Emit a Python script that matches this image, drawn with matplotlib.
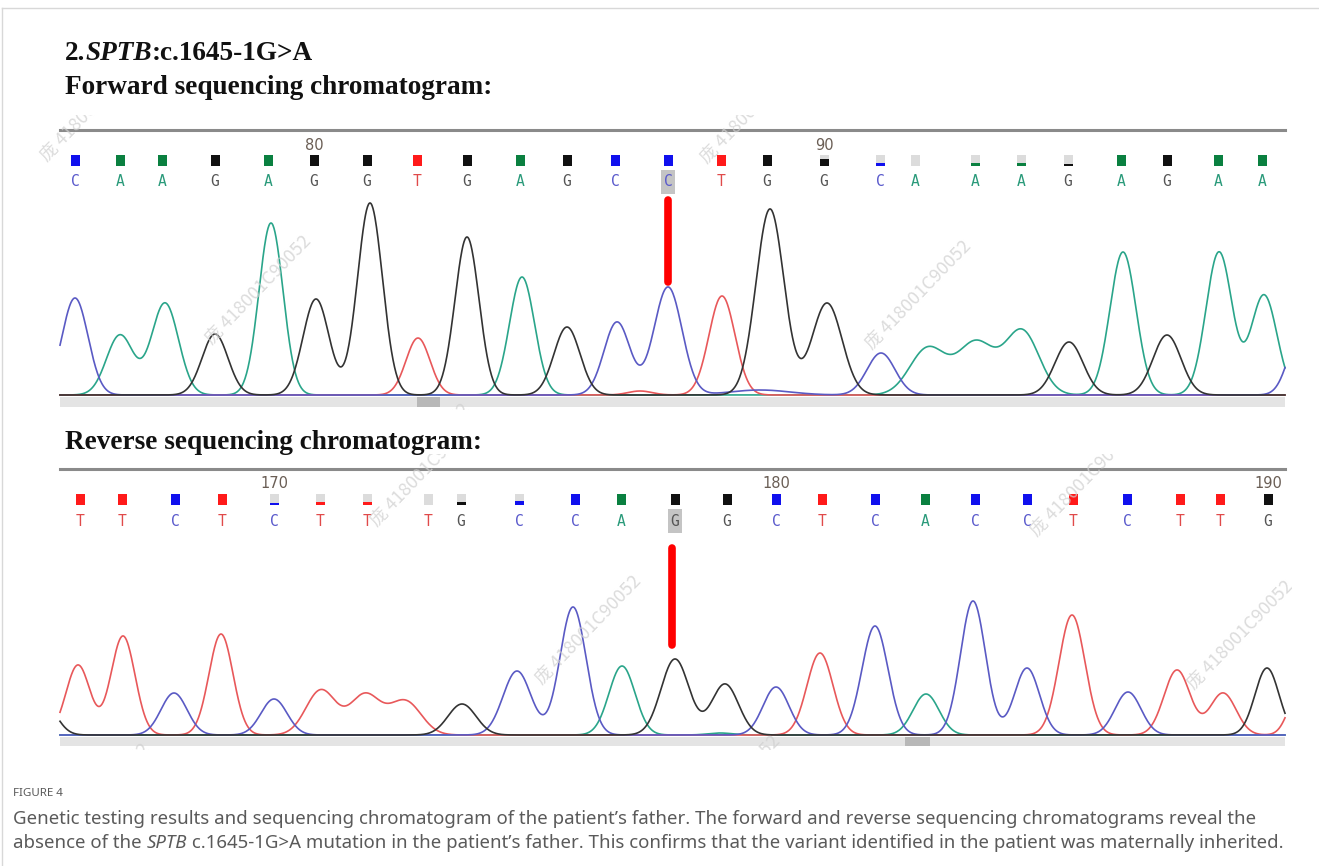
import numpy as np
import matplotlib.pyplot as plt
from matplotlib.patches import Rectangle

W, H = 1319, 866

# ---------------- DATA ----------------
title_parts = [("2.", "normal"), ("SPTB", "italic"), (":c.1645-1G>A", "normal")]
fwd_header = "Forward sequencing chromatogram:"
rev_header = "Reverse sequencing chromatogram:"

# forward read: base calls, scan position, quality (1 = full bar)
fwd_bases = list("CAAGAGGTGAGCCTGGCAAAGAGAA")
fwd_pos = [75, 120, 162, 215, 268, 314, 367, 417, 467, 520, 567, 615, 668,
           721, 767, 824, 880, 915, 975, 1021, 1068, 1121, 1167, 1218, 1262]
fwd_qual = [1] * 15 + [0.6, 0.25, 0.0, 0.25, 0.3, 0.2] + [1] * 4
fwd_ticks = {5: "80", 15: "90"}
fwd_site = 12

# forward trace peaks (scan, height, width) per channel
fwd_peaks = {
    "T": [(418, 57, 12), (722, 99, 13), (640, 4, 12)],
    "A": [(120, 60, 13.5), (165, 92, 13.5), (271, 172, 12), (522, 118, 12.5),
          (928, 47, 18), (976, 52, 18), (1022, 64, 17), (1123, 143, 13),
          (1219, 143, 13), (1264, 100, 13)],
    "C": [(75, 97, 13), (617, 73, 13), (668, 108, 14), (760, 5, 30),
          (881, 42, 14), (1300, 60, 12)],
    "G": [(215, 61, 13), (316, 96, 13), (370, 192, 12.5), (467, 158, 12),
          (567, 68, 13), (770, 186, 14), (827, 92, 15), (1069, 53, 14),
          (1167, 60, 14)],
}

# reverse read
rev_bases = list("TTCTCTTTGCCAGGCTCACCTCTTG")
rev_pos = [80, 122, 175, 222, 274, 320, 367, 428, 461, 519, 575, 621, 675,
           727, 776, 822, 875, 925, 975, 1027, 1073, 1127, 1180, 1220, 1268]
rev_qual = [1, 1, 1, 1, 0.2, 0.3, 0.3, 0.0, 0.25, 0.35] + [1] * 15
rev_ticks = {4: "170", 14: "180", 24: "190"}
rev_site = 12

rev_peaks = {
    "T": [(78, 70, 12), (123, 99, 12), (221, 101, 12), (321, 45, 15),
          (365, 40, 15), (405, 34, 16), (820, 82, 13), (1072, 120, 13),
          (1177, 65, 13), (1223, 42, 13), (1298, 40, 10)],
    "A": [(622, 69, 13), (926, 41, 13), (720, 2, 12)],
    "C": [(174, 42, 13), (274, 36, 13), (517, 64, 14), (573, 128, 13),
          (776, 48, 13), (875, 109, 13), (973, 134, 12.5), (1027, 67, 12.5),
          (1128, 43, 13)],
    "G": [(45, 30, 12), (462, 31, 14), (675, 76, 14), (725, 51, 13.5),
          (1267, 67, 12)],
}

caption_head = "FIGURE 4"
caption_1 = [("Genetic testing results and sequencing chromatogram of the patient\u2019s father. "
              "The forward and reverse sequencing chromatograms reveal the", "normal")]
caption_2 = [("absence of the ", "normal"), ("SPTB", "italic"),
             (" c.1645-1G>A mutation in the patient\u2019s father. This confirms that the "
              "variant identified in the patient was maternally inherited.", "normal")]
watermark = "\u5e9e 418001C90052"
# --------------------------------------

trace_col = {"T": "#e8585a", "A": "#2aa58a", "C": "#5a5ac4", "G": "#333333"}
sq_col = {"T": "#ff1a1a", "A": "#0a8040", "C": "#1010ee", "G": "#111111"}
txt_col = {"T": "#e04a4a", "A": "#2a9a7a", "C": "#5a5acc", "G": "#555555"}

fig = plt.figure(figsize=(W / 100, H / 100), dpi=100)
renderer = fig.canvas.get_renderer()


def fx(px):
    return px / W


def fy(py):
    return 1 - py / H


def seg_text(x, y, parts, **kw):
    # draw text pieces one after another (for italic gene names)
    for s, style in parts:
        t = fig.text(fx(x), fy(y), s, style=style, va="center", **kw)
        bb = t.get_window_extent(renderer)
        x += bb.width


def panel(top, bottom, bases, pos, qual, ticks, site, peaks, bar_top, bar_bot,
          dark_block, wmarks):
    ax = fig.add_axes([fx(35), fy(bottom), fx(1292 - 35), (bottom - top) / H])
    base_y = bar_top - 2
    ax.set_xlim(35, 1292)
    ax.set_ylim(base_y - bottom, base_y - top)
    ax.axis("off")

    xs = np.arange(60, 1285.5, 0.5)
    for ch in ["A", "T", "C", "G"]:
        ys = np.zeros_like(xs)
        for p, h, s in peaks[ch]:
            ys += h * np.exp(-(xs - p) ** 2 / (2 * s ** 2))
        ax.plot(xs, ys, color=trace_col[ch], lw=1.2, zorder=3)

    # grey scale bar under the trace
    ax.add_patch(Rectangle((60, base_y - bar_bot), 1225, bar_bot - bar_top,
                           color="#e4e4e4", lw=0, zorder=1))
    ax.add_patch(Rectangle((dark_block[0], base_y - bar_bot), dark_block[1] - dark_block[0],
                           bar_bot - bar_top, color="#b8b8b8", lw=0, zorder=1))

    # top rule
    ax.plot([60, 1285], [base_y - (top + 15)] * 2, color="#8a8a8a", lw=2.2, zorder=2)

    sq_y = base_y - (top + 45) - 6
    let_y = base_y - (top + 67)
    num_y = base_y - (top + 30)
    for i, (b, x, q) in enumerate(zip(bases, pos, qual)):
        ax.add_patch(Rectangle((x - 4.5, sq_y), 9, 11, color="#dcdcdc", lw=0))
        if q > 0:
            ax.add_patch(Rectangle((x - 4.5, sq_y), 9, 11 * q, color=sq_col[b], lw=0))
        ax.text(x, let_y, b, ha="center", va="center", color=txt_col[b],
                fontsize=10.5, family="DejaVu Sans Mono", zorder=4)
        if i in ticks:
            ax.text(x, num_y, ticks[i], ha="center", va="center", color="#6a5e55",
                    fontsize=10.5)
    # highlighted base under the variant site
    ax.add_patch(Rectangle((pos[site] - 7, let_y - 12), 14, 24, color="#c4c4c4",
                           lw=0, zorder=2))

    for cx, cy in wmarks:
        ax.text(cx, base_y - cy, watermark, rotation=46, ha="center", va="center",
                fontsize=13, color="#d0d0d0", alpha=0.75,
                family=["Noto Sans CJK SC", "DejaVu Sans"], clip_on=True, zorder=5)
    return ax, base_y


ax1, b1 = panel(115, 410, fwd_bases, fwd_pos, fwd_qual, fwd_ticks, fwd_site,
                fwd_peaks, 397, 407, (417, 440),
                [(93, 107), (258, 290), (753, 109), (918, 295), (417, 458)])
ax1.plot([fwd_pos[fwd_site]] * 2, [b1 - 282, b1 - 200], color="#ff0000", lw=5.5,
         solid_capstyle="round", zorder=6)

ax2, b2 = panel(454, 750, rev_bases, rev_pos, rev_qual, rev_ticks, rev_site,
                rev_peaks, 737, 746, (905, 930),
                [(423, 472), (588, 630), (1083, 482), (1240, 635), (97, 798),
                 (727, 790)])
ax2.plot([rev_pos[rev_site] - 3] * 2, [b2 - 645, b2 - 548], color="#ff0000", lw=5.5,
         solid_capstyle="round", zorder=6)

serif = dict(family="Liberation Serif", weight="bold", fontsize=19.6, color="#111111")
seg_text(65, 53, title_parts, **serif)
fig.text(fx(65), fy(88), fwd_header, va="center", **serif)
fig.text(fx(65), fy(443), rev_header, va="center", **serif)

cap = dict(family="Noto Sans", fontsize=13.4, color="#5a5a5a")
fig.text(fx(13), fy(794), caption_head, va="center", family="Noto Sans",
         fontsize=8.3, color="#5a5a5a")
seg_text(13, 819, caption_1, **cap)
seg_text(13, 843, caption_2, **cap)

# light frame of the page
fig.add_artist(plt.Line2D([fx(2), 1], [fy(8), fy(8)], color="#d8d8d8", lw=1))
fig.add_artist(plt.Line2D([fx(2), fx(2)], [fy(8), 0], color="#d8d8d8", lw=1))

fig.savefig("out.png", dpi=100)
